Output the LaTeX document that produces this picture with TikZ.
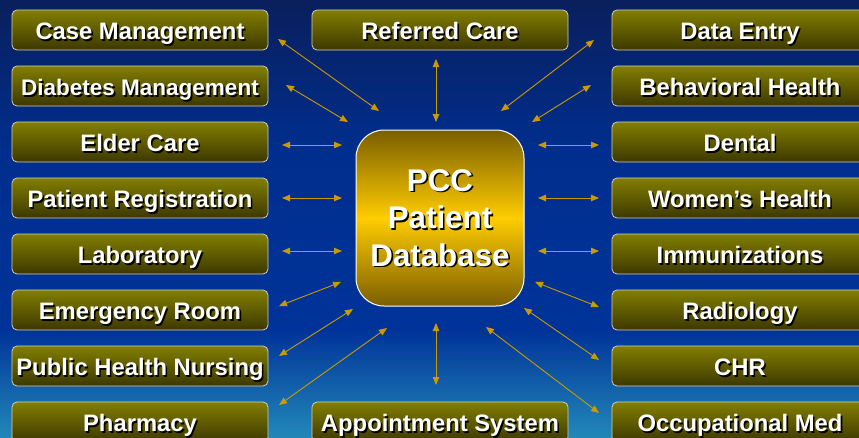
\documentclass[tikz,border=0pt]{standalone}
\usepackage{fontspec}
\setmainfont{Liberation Sans}
\usetikzlibrary{arrows.meta}

\definecolor{navytop}{HTML}{0A1F5C}
\definecolor{royalmid}{HTML}{002E8E}
\definecolor{royal}{HTML}{003399}
\definecolor{tealbot}{HTML}{2288B8}
\definecolor{olivetop}{HTML}{827E00}
\definecolor{olivebot}{HTML}{3C3800}
\definecolor{boxedge}{HTML}{D0D0C0}
\definecolor{goldedge}{HTML}{7A5E00}
\definecolor{goldmid}{HTML}{FFCC00}
\definecolor{linkgold}{HTML}{CC9900}

% white text with a black drop shadow: [offset]{text}
\newcommand\shadowtext[2][1.6pt]{\leavevmode
  \rlap{\kern#1\raisebox{-#1}[0pt][0pt]{\textcolor{black}{#2}}}%
  \textcolor{white}{#2}}

\tikzset{
  modbox/.style={draw=boxedge, line width=0.8pt, rounded corners=5pt,
    minimum width=256pt, minimum height=40pt, inner sep=0pt,
    top color=olivetop, bottom color=olivebot},
  modtext/.style={inner sep=0pt, text height=17pt, text depth=0pt},
  hub/.style={draw=white, line width=1pt, rounded corners=28pt,
    minimum width=168pt, minimum height=176pt, inner sep=0pt,
    top color=goldedge, bottom color=goldedge, middle color=goldmid},
  hubtext/.style={inner sep=0pt, align=center,
    font=\bfseries\fontsize{31.3}{37.5}\selectfont},
  link/.style={draw=linkgold, line width=0.9pt,
    {Triangle[length=8pt,width=6.5pt]}-{Triangle[length=8pt,width=6.5pt]}}
}

% module box with its label: [font size]{name}{position}{text}
\newcommand\modnode[4][23.8]{%
  \node[modbox] (#2) at (#3) {};
  \node[modtext, font=\bfseries\fontsize{#1}{28}\selectfont]
    (#2-label) at ([yshift=-1pt]#2.center) {\shadowtext{#4}};
}

\begin{document}
\begin{tikzpicture}[x=1pt,y=-1pt]
  \useasboundingbox (0,0) rectangle (859,437);

  % background gradient
  \shade[top color=navytop, bottom color=royalmid] (0,0) rectangle (859,151);
  \shade[top color=royalmid, bottom color=royal] (0,150) rectangle (859,331);
  \shade[top color=royal, bottom color=tealbot] (0,330) rectangle (859,437);

  % central database
  \node[hub] (pcc) at (440,218) {};
  \node[hubtext] (pcc-label) at (pcc.center)
    {\shadowtext{PCC}\\\shadowtext{Patient}\\\shadowtext{Database}};

  % left column
  \modnode{case}{140,30}{Case Management}
  \modnode[22.5]{diab}{140,86}{Diabetes Management}
  \modnode{elder}{140,142}{Elder Care}
  \modnode{preg}{140,198}{Patient Registration}
  \modnode{lab}{140,254}{Laboratory}
  \modnode{er}{140,310}{Emergency Room}
  \modnode{phn}{140,366}{Public Health Nursing}
  \modnode{pharm}{140,422}{Pharmacy}

  % centre column
  \modnode{refc}{440,30}{Referred Care}
  \modnode{appt}{440,422}{Appointment System}

  % right column
  \modnode{data}{740,30}{Data Entry}
  \modnode{behav}{740,86}{Behavioral Health}
  \modnode{dental}{740,142}{Dental}
  \modnode{women}{740,198}{Women’s Health}
  \modnode{immun}{740,254}{Immunizations}
  \modnode{radio}{740,310}{Radiology}
  \modnode{chr}{740,366}{CHR}
  \modnode{occ}{740,422}{Occupational Med}

  % connector end points
  \coordinate (case-o) at (278,39);   \coordinate (case-i) at (379,111);
  \coordinate (diab-o) at (286,85);   \coordinate (diab-i) at (348,122);
  \coordinate (elder-o) at (282,145); \coordinate (elder-i) at (342,145);
  \coordinate (preg-o) at (282,198);  \coordinate (preg-i) at (342,198);
  \coordinate (lab-o) at (282,251);   \coordinate (lab-i) at (342,251);
  \coordinate (er-o) at (279,306);    \coordinate (er-i) at (341,282);
  \coordinate (phn-o) at (279,356);   \coordinate (phn-i) at (353,309);
  \coordinate (pharm-o) at (279,405); \coordinate (pharm-i) at (387,328);
  \coordinate (appt-o) at (436,385);  \coordinate (appt-i) at (436,323);
  \coordinate (occ-o) at (599,413);   \coordinate (occ-i) at (486,327);
  \coordinate (chr-o) at (599,360);   \coordinate (chr-i) at (524,308);
  \coordinate (radio-o) at (599,307); \coordinate (radio-i) at (535,282);
  \coordinate (immun-o) at (599,251); \coordinate (immun-i) at (538,251);
  \coordinate (women-o) at (599,198); \coordinate (women-i) at (538,198);
  \coordinate (dental-o) at (599,145);\coordinate (dental-i) at (538,145);
  \coordinate (behav-o) at (591,85);  \coordinate (behav-i) at (532,122);
  \coordinate (data-o) at (594,40);   \coordinate (data-i) at (501,111);
  \coordinate (refc-o) at (436,59);   \coordinate (refc-i) at (436,122);

  % two-way connectors
  \foreach \m in {case,diab,elder,preg,lab,er,phn,pharm,appt,
                  occ,chr,radio,immun,women,dental,behav,data,refc}
    \draw[link] (\m-o) -- (\m-i);
\end{tikzpicture}
\end{document}
